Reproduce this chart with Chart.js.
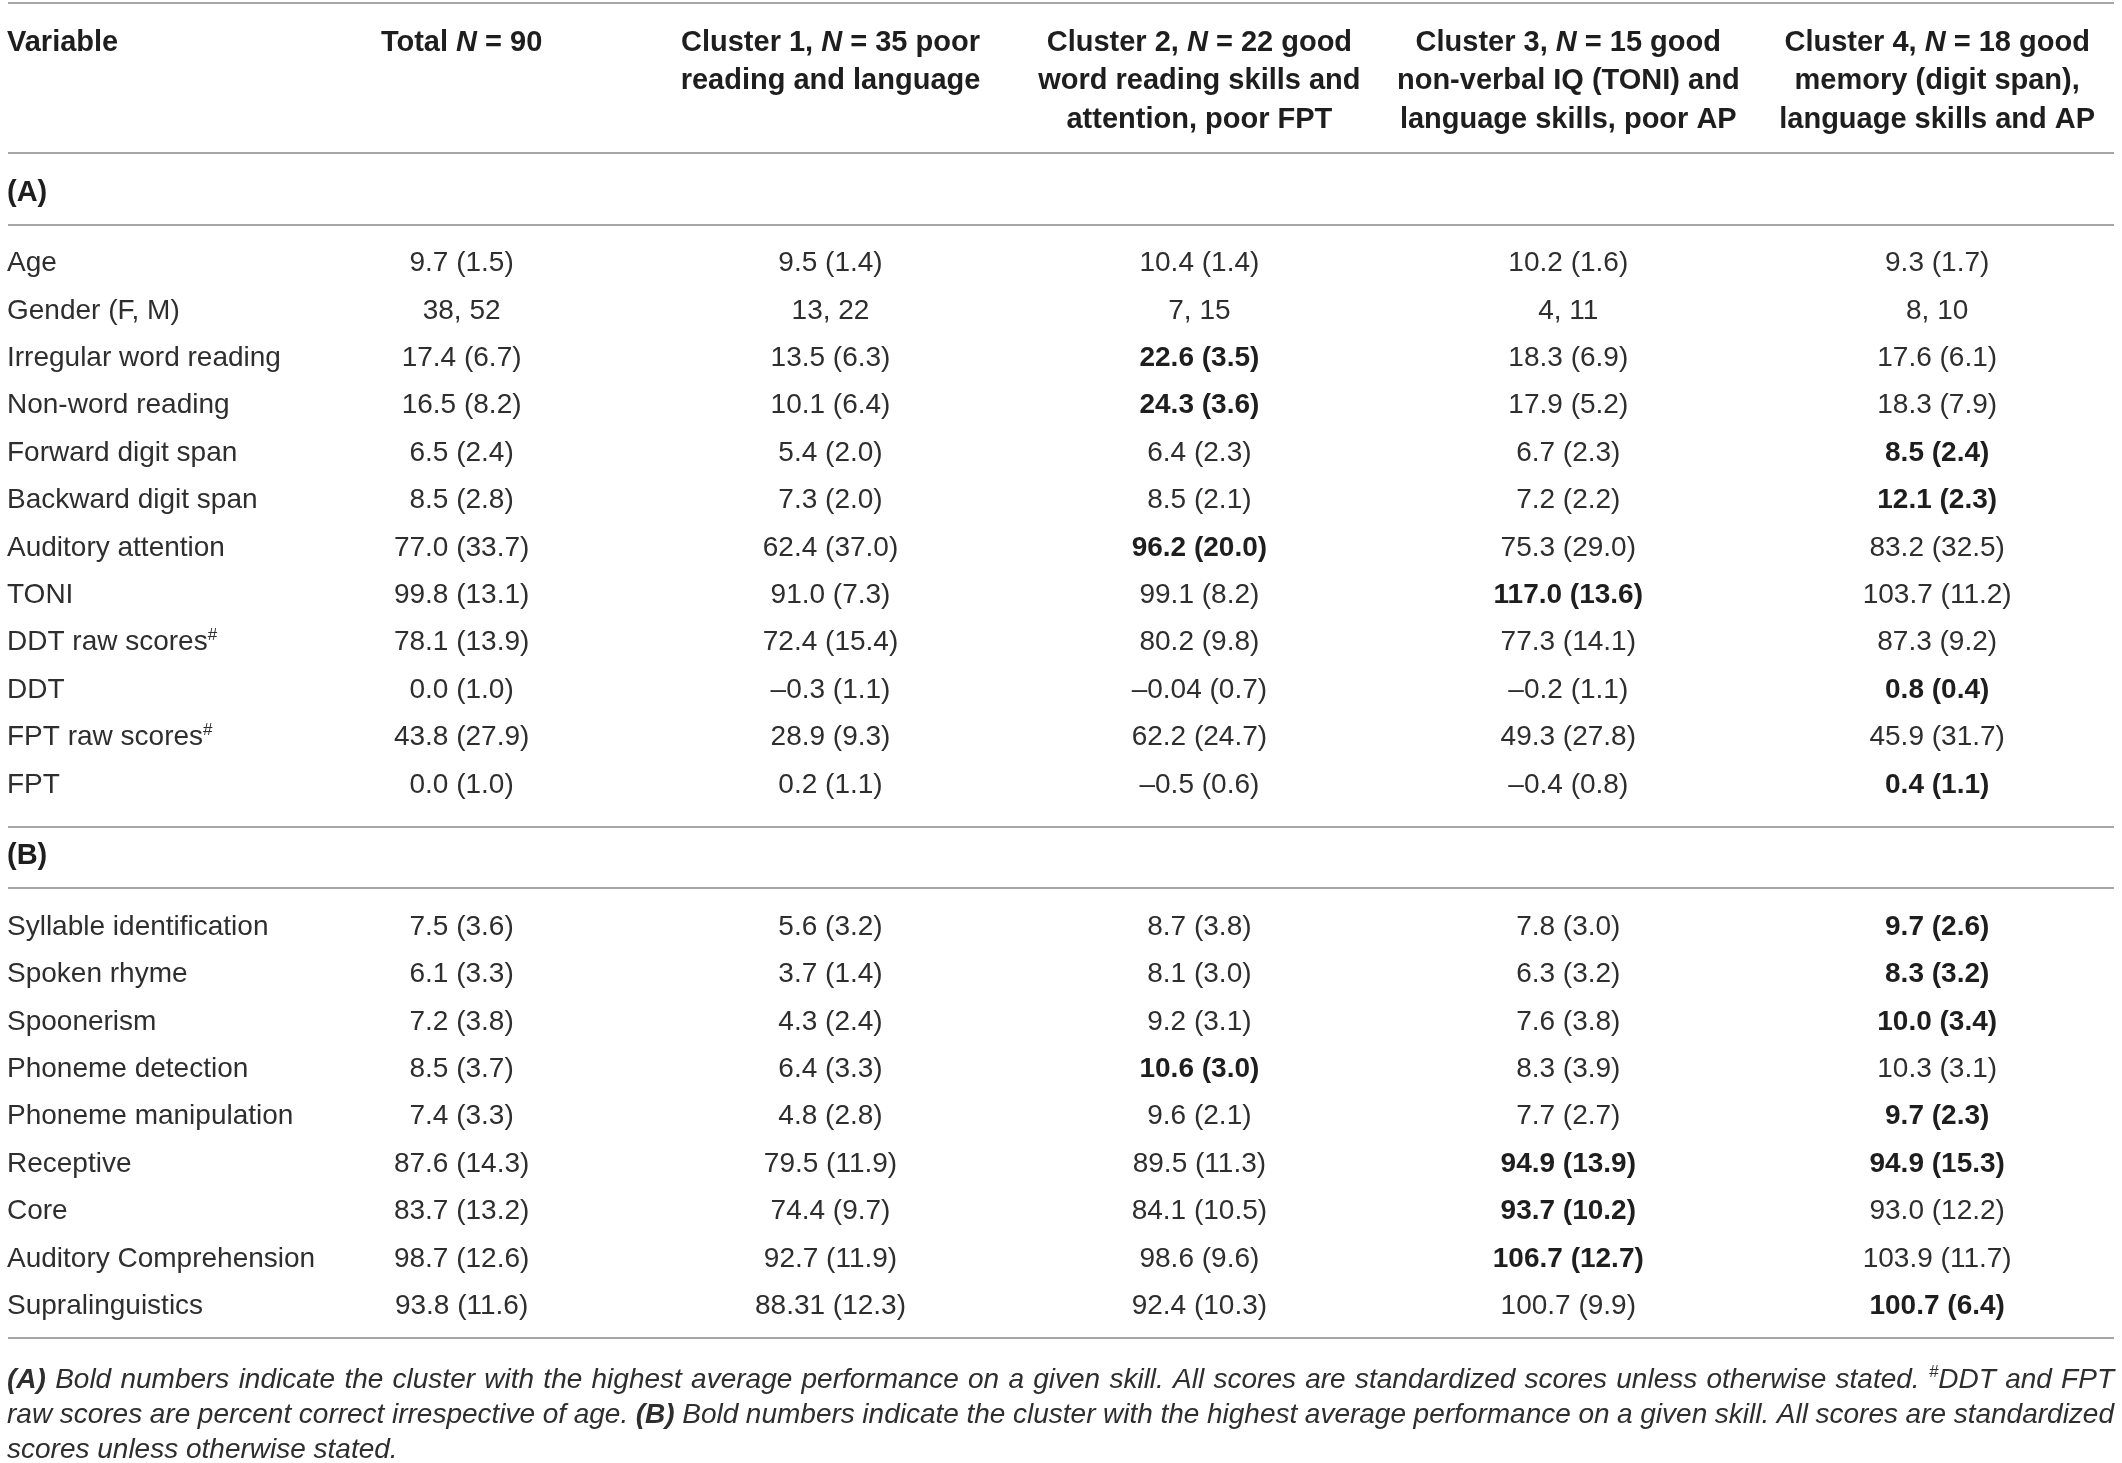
<!DOCTYPE html>
<html>
<head>
<meta charset="utf-8">
<script src="https://cdn.jsdelivr.net/npm/chart.js@4.4.0/dist/chart.umd.min.js"></script>
<style>
  html, body { margin: 0; padding: 0; background: #fff; overflow: hidden; }
  #wrap { width: 2122px; height: 1463px; position: relative; }
</style>
</head>
<body>
<div id="wrap"><canvas id="tableChart"></canvas></div>
<script>
// Column headers (text between * is italic)
const columnHeaders = [
  ["Total *N* = 90"],
  ["Cluster 1, *N* = 35 poor", "reading and language"],
  ["Cluster 2, *N* = 22 good", "word reading skills and", "attention, poor FPT"],
  ["Cluster 3, *N* = 15 good", "non-verbal IQ (TONI) and", "language skills, poor AP"],
  ["Cluster 4, *N* = 18 good", "memory (digit span),", "language skills and AP"]
];
const sectionLabels = ["(A)", "(B)"];

// Row labels (^ marks a superscript)
const rowsA = ["Age", "Gender (F, M)", "Irregular word reading", "Non-word reading",
  "Forward digit span", "Backward digit span", "Auditory attention", "TONI",
  "DDT raw scores^#", "DDT", "FPT raw scores^#", "FPT"];
const rowsB = ["Syllable identification", "Spoken rhyme", "Spoonerism", "Phoneme detection",
  "Phoneme manipulation", "Receptive", "Core", "Auditory Comprehension", "Supralinguistics"];

// Mean (SD) per column, section A rows then section B rows
const totalValues = ["9.7 (1.5)", "38, 52", "17.4 (6.7)", "16.5 (8.2)", "6.5 (2.4)", "8.5 (2.8)",
  "77.0 (33.7)", "99.8 (13.1)", "78.1 (13.9)", "0.0 (1.0)", "43.8 (27.9)", "0.0 (1.0)",
  "7.5 (3.6)", "6.1 (3.3)", "7.2 (3.8)", "8.5 (3.7)", "7.4 (3.3)", "87.6 (14.3)",
  "83.7 (13.2)", "98.7 (12.6)", "93.8 (11.6)"];
const cluster1Values = ["9.5 (1.4)", "13, 22", "13.5 (6.3)", "10.1 (6.4)", "5.4 (2.0)", "7.3 (2.0)",
  "62.4 (37.0)", "91.0 (7.3)", "72.4 (15.4)", "–0.3 (1.1)", "28.9 (9.3)", "0.2 (1.1)",
  "5.6 (3.2)", "3.7 (1.4)", "4.3 (2.4)", "6.4 (3.3)", "4.8 (2.8)", "79.5 (11.9)",
  "74.4 (9.7)", "92.7 (11.9)", "88.31 (12.3)"];
const cluster2Values = ["10.4 (1.4)", "7, 15", "22.6 (3.5)", "24.3 (3.6)", "6.4 (2.3)", "8.5 (2.1)",
  "96.2 (20.0)", "99.1 (8.2)", "80.2 (9.8)", "–0.04 (0.7)", "62.2 (24.7)", "–0.5 (0.6)",
  "8.7 (3.8)", "8.1 (3.0)", "9.2 (3.1)", "10.6 (3.0)", "9.6 (2.1)", "89.5 (11.3)",
  "84.1 (10.5)", "98.6 (9.6)", "92.4 (10.3)"];
const cluster3Values = ["10.2 (1.6)", "4, 11", "18.3 (6.9)", "17.9 (5.2)", "6.7 (2.3)", "7.2 (2.2)",
  "75.3 (29.0)", "117.0 (13.6)", "77.3 (14.1)", "–0.2 (1.1)", "49.3 (27.8)", "–0.4 (0.8)",
  "7.8 (3.0)", "6.3 (3.2)", "7.6 (3.8)", "8.3 (3.9)", "7.7 (2.7)", "94.9 (13.9)",
  "93.7 (10.2)", "106.7 (12.7)", "100.7 (9.9)"];
const cluster4Values = ["9.3 (1.7)", "8, 10", "17.6 (6.1)", "18.3 (7.9)", "8.5 (2.4)", "12.1 (2.3)",
  "83.2 (32.5)", "103.7 (11.2)", "87.3 (9.2)", "0.8 (0.4)", "45.9 (31.7)", "0.4 (1.1)",
  "9.7 (2.6)", "8.3 (3.2)", "10.0 (3.4)", "10.3 (3.1)", "9.7 (2.3)", "94.9 (15.3)",
  "93.0 (12.2)", "103.9 (11.7)", "100.7 (6.4)"];

// Rows where a cluster has the best score (shown in bold)
const boldCluster2 = ["Irregular word reading", "Non-word reading", "Auditory attention", "Phoneme detection"];
const boldCluster3 = ["TONI", "Receptive", "Core", "Auditory Comprehension"];
const boldCluster4 = ["Forward digit span", "Backward digit span", "DDT", "FPT", "Syllable identification",
  "Spoken rhyme", "Spoonerism", "Phoneme manipulation", "Receptive", "Supralinguistics"];

// Footnote (** bold, ^ superscript), base style italic
const footnoteLines = [
  "**(A)** Bold numbers indicate the cluster with the highest average performance on a given skill. All scores are standardized scores unless otherwise stated. ^#DDT and FPT",
  "raw scores are percent correct irrespective of age. **(B)** Bold numbers indicate the cluster with the highest average performance on a given skill. All scores are standardized",
  "scores unless otherwise stated."
];

// ---- build rows ----
const rowLabels = rowsA.concat(rowsB);
const rowSlots = rowsA.map((_, i) => i).concat(rowsB.map((_, i) => rowsA.length + 2 + i));
const columns = [totalValues, cluster1Values, cluster2Values, cluster3Values, cluster4Values];
const boldLists = [[], [], boldCluster2, boldCluster3, boldCluster4];

const FONT = '"Liberation Sans", Arial, sans-serif';
const SIZE = 28;
const HEAD_SIZE = 29;
const TEXT_COLOR = "#2e2e2e";
const HEAD_COLOR = "#1e1e1e";
const RULE_COLOR = "#a6a6a6";

// datasets: column 0 is the variable names, 1..5 the value columns
const datasets = [{
  label: "Variable",
  data: rowSlots.map(y => ({ x: 0, y })),
  cellText: rowLabels,
  cellBold: rowLabels.map(() => false),
  align: "left"
}].concat(columns.map((vals, c) => ({
  label: "col" + (c + 1),
  data: vals.map((_, i) => ({ x: c + 1, y: rowSlots[i] })),
  cellText: vals,
  cellBold: vals.map((_, i) => boldLists[c].includes(rowLabels[i])),
  align: "center"
})));

// parse simple markup into runs
function parseRuns(str, base) {
  const runs = [];
  str.split(/(\*\*[^*]+\*\*|\*[^*]+\*|\^.)/).forEach(part => {
    if (!part) return;
    if (part.startsWith("**")) runs.push({ ...base, bold: true, text: part.slice(2, -2) });
    else if (part.startsWith("*")) runs.push({ ...base, italic: true, text: part.slice(1, -1) });
    else if (part.startsWith("^")) runs.push({ ...base, sup: true, text: part.slice(1) });
    else runs.push({ ...base, text: part });
  });
  return runs;
}

function runFont(r, size) {
  const s = r.sup ? Math.round(size * 0.62) : size;
  return (r.italic ? "italic " : "") + (r.bold ? "bold " : "") + s + "px " + FONT;
}

function runsWidth(ctx, runs, size) {
  return runs.reduce((w, r) => { ctx.font = runFont(r, size); return w + ctx.measureText(r.text).width; }, 0);
}

function drawRuns(ctx, runs, x, yMid, align, size, color) {
  const w = runsWidth(ctx, runs, size);
  let cx = align === "center" ? x - w / 2 : x;
  const base = yMid + size * 0.716 / 2;
  ctx.fillStyle = color;
  ctx.textBaseline = "alphabetic";
  ctx.textAlign = "left";
  runs.forEach(r => {
    ctx.font = runFont(r, size);
    ctx.fillText(r.text, cx, r.sup ? base - size * 0.38 : base);
    cx += ctx.measureText(r.text).width;
  });
}

// justified line: spread words over the given width
function drawJustified(ctx, runs, x, yMid, width, size, color, justify) {
  const words = [[]];
  runs.forEach(r => {
    r.text.split(" ").forEach((p, k) => {
      if (k > 0) words.push([]);
      if (p) words[words.length - 1].push({ ...r, text: p });
    });
  });
  const list = words.filter(w => w.length);
  const widths = list.map(w => runsWidth(ctx, w, size));
  ctx.font = runFont(runs[0], size);
  let gap = ctx.measureText(" ").width;
  if (justify) gap = (width - widths.reduce((a, b) => a + b, 0)) / (list.length - 1);
  let cx = x;
  list.forEach((w, i) => {
    drawRuns(ctx, w, cx, yMid, "left", size, color);
    cx += widths[i] + gap;
  });
}

const tablePlugin = {
  id: "tableDraw",
  beforeDraw(chart) {
    const ctx = chart.ctx;
    ctx.save();
    ctx.fillStyle = "#fff";
    ctx.fillRect(0, 0, chart.width, chart.height);
    ctx.restore();
  },
  afterDatasetsDraw(chart) {
    const ctx = chart.ctx;
    const area = chart.chartArea;
    const ys = chart.scales.y;
    const xs = chart.scales.x;
    const left = area.left + 7;
    const lastRow = rowSlots[rowSlots.length - 1];
    const firstB = rowsA.length + 2;
    ctx.save();

    // horizontal rules
    const rules = [-5.44, -2.28, -0.76, rowsA.length - 1 + 0.93, firstB - 0.78, lastRow + 0.72];
    ctx.strokeStyle = RULE_COLOR;
    ctx.lineWidth = 2;
    rules.forEach(v => {
      const y = Math.round(ys.getPixelForValue(v));
      ctx.beginPath();
      ctx.moveTo(area.left + 8, y);
      ctx.lineTo(area.right - 8, y);
      ctx.stroke();
    });

    // header
    const headSlots = [-4.66, -3.84, -3.02];
    drawRuns(ctx, parseRuns("Variable", { bold: true }), left, ys.getPixelForValue(headSlots[0]), "left", HEAD_SIZE, HEAD_COLOR);
    columnHeaders.forEach((lines, c) => {
      lines.forEach((line, k) => {
        drawRuns(ctx, parseRuns(line, { bold: true }), xs.getPixelForValue(c + 1),
          ys.getPixelForValue(headSlots[k]), "center", HEAD_SIZE, HEAD_COLOR);
      });
    });

    // section labels
    drawRuns(ctx, parseRuns(sectionLabels[0], { bold: true }), left, ys.getPixelForValue(-1.48), "left", HEAD_SIZE, HEAD_COLOR);
    drawRuns(ctx, parseRuns(sectionLabels[1], { bold: true }), left, ys.getPixelForValue(firstB - 1.5), "left", HEAD_SIZE, HEAD_COLOR);

    // cells, placed by the chart's own scales
    chart.data.datasets.forEach((ds, i) => {
      const meta = chart.getDatasetMeta(i);
      meta.data.forEach((pt, j) => {
        const runs = parseRuns(ds.cellText[j], { bold: ds.cellBold[j] });
        const x = ds.align === "left" ? left : pt.x;
        drawRuns(ctx, runs, x, pt.y, ds.align, SIZE, ds.cellBold[j] ? HEAD_COLOR : TEXT_COLOR);
      });
    });

    // footnote
    footnoteLines.forEach((line, k) => {
      const runs = parseRuns(line, { italic: true });
      drawJustified(ctx, runs, left, ys.getPixelForValue(lastRow + 1.55 + k * 0.74),
        area.right - 8 - left, SIZE, TEXT_COLOR, k < footnoteLines.length - 1);
    });
    ctx.restore();
  }
};

const ctx = document.getElementById("tableChart").getContext("2d");
const tableChart = new Chart(ctx, {
  type: "scatter",
  data: { datasets: datasets },
  options: {
    responsive: true,
    maintainAspectRatio: false,
    animation: false,
    events: [],
    layout: { padding: 0, autoPadding: false },
    elements: { point: { radius: 0, hoverRadius: 0, borderWidth: 0 } },
    plugins: { legend: { display: false }, tooltip: { enabled: false } },
    scales: {
      x: { type: "linear", display: false, min: -0.2513, max: 5.501 },
      y: { type: "linear", display: false, reverse: true, min: -5.508, max: 25.352 }
    }
  },
  plugins: [tablePlugin]
});
</script>
</body>
</html>
